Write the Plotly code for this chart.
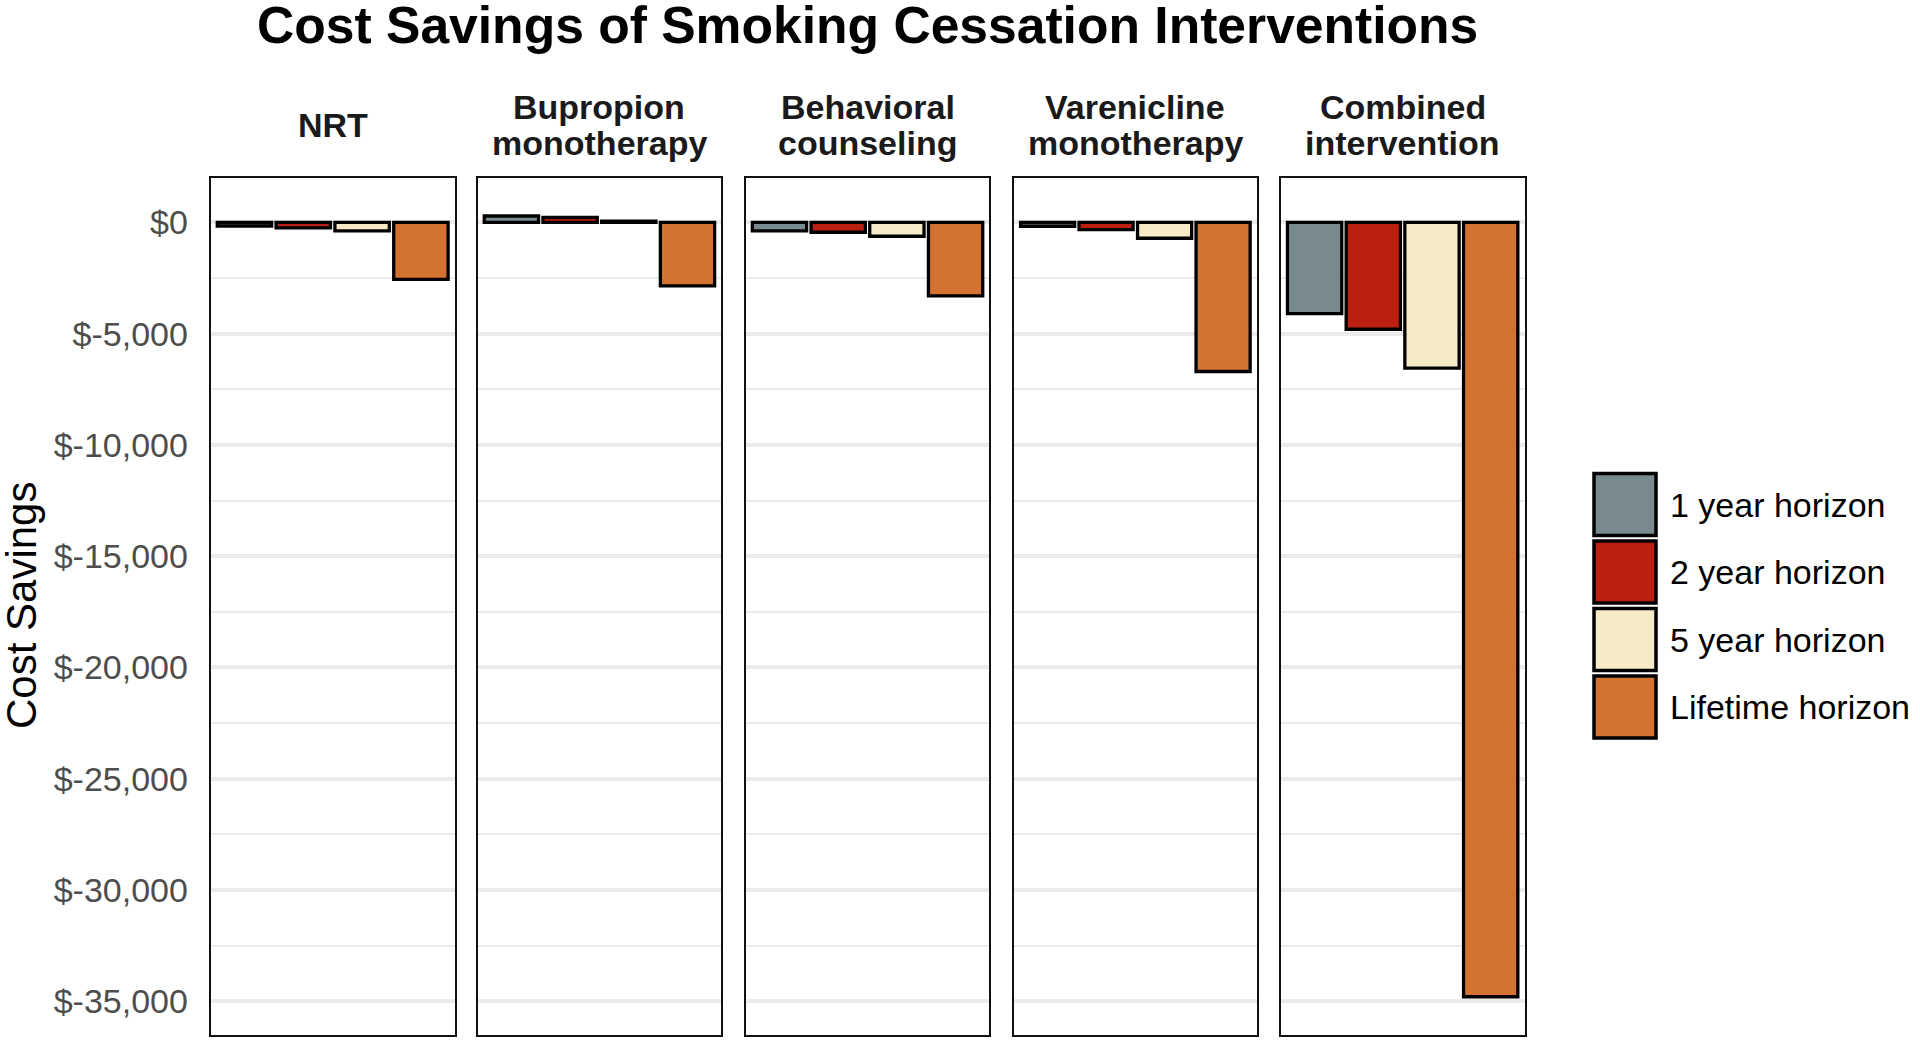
import plotly.graph_objects as go
from plotly.subplots import make_subplots

# ---- data ----
interventions = ["NRT", "Bupropion<br>monotherapy", "Behavioral<br>counseling",
                 "Varenicline<br>monotherapy", "Combined<br>intervention"]
horizons = ["1 year horizon", "2 year horizon", "5 year horizon", "Lifetime horizon"]
savings_1yr = [-160, 290, -380, -170, -4100]
savings_2yr = [-240, 230, -440, -320, -4800]
savings_5yr = [-380, 60, -620, -710, -6550]
savings_life = [-2560, -2850, -3300, -6700, -34800]
horizon_colors = ["#798A8F", "#BA1F12", "#F7EBC7", "#D37231"]
tick_values = [0, -5000, -10000, -15000, -20000, -25000, -30000, -35000]
tick_labels = ["$0", "$-5,000", "$-10,000", "$-15,000", "$-20,000", "$-25,000",
               "$-30,000", "$-35,000"]
title_text = "Cost Savings of Smoking Cessation Interventions"
y_title = "Cost Savings"

W, H = 1920, 1041
panel_px = [(210.6, 454.8), (477.6, 721.3), (745.7, 989.4), (1013.9, 1256.8), (1280.8, 1524.5)]
top_px, bot_px = 177.5, 1035.0

series = [savings_1yr, savings_2yr, savings_5yr, savings_life]

fig = make_subplots(rows=1, cols=5, shared_yaxes=True)
for i, name in enumerate(interventions):
    vals = [s[i] for s in series]
    fig.add_trace(go.Bar(x=horizons, y=vals,
                         marker=dict(color=horizon_colors, line=dict(color="black", width=3.3)),
                         showlegend=False, hoverinfo="skip"), row=1, col=i + 1)

ydom = [(H - bot_px) / H, (H - top_px) / H]
for i, (x0, x1) in enumerate(panel_px):
    xa = "xaxis" if i == 0 else f"xaxis{i+1}"
    ya = "yaxis" if i == 0 else f"yaxis{i+1}"
    fig.layout[xa].update(domain=[x0 / W, x1 / W], type="category", range=[-0.576, 3.576],
                          showticklabels=False, ticks="", showgrid=False, zeroline=False,
                          showline=True, linecolor="#111111", linewidth=1.8, mirror=True,
                          fixedrange=True)
    fig.layout[ya].update(domain=ydom, range=[-36520, 2020], tickvals=tick_values,
                          ticktext=tick_labels, showticklabels=(i == 0),
                          showgrid=True, gridcolor="#EBEBEB", gridwidth=3.6,
                          minor=dict(dtick=2500, tick0=0, showgrid=True, gridcolor="#EBEBEB", gridwidth=1.8),
                          zeroline=False, showline=True, linecolor="#111111", linewidth=1.8,
                          mirror=True, ticks="", ticklabelstandoff=14,
                          tickfont=dict(family="Liberation Sans, Arial", size=34, color="#4D4D4D"))

annotations = []
annotations.append(dict(text=f"<b>{title_text}</b>", x=867 / W, y=1 - 25.5 / H, xref="paper", yref="paper",
                        xanchor="center", yanchor="middle", showarrow=False,
                        font=dict(family="Liberation Sans, Arial", size=51.6, color="black")))
for i, name in enumerate(interventions):
    cx = (panel_px[i][0] + panel_px[i][1]) / 2 / W
    lines = name.split("<br>")
    if len(lines) == 1:
        ys = [125]
    else:
        ys = [106.5, 143]
    for ln, yy in zip(lines, ys):
        annotations.append(dict(text=f"<b>{ln}</b>", x=cx, y=1 - yy / H, xref="paper", yref="paper",
                                xanchor="center", yanchor="middle", showarrow=False,
                                font=dict(family="Liberation Sans, Arial", size=34, color="#1A1A1A")))
annotations.append(dict(text=y_title, x=21 / W, y=1 - 606 / H, xref="paper", yref="paper",
                        xanchor="center", yanchor="middle", showarrow=False, textangle=-90,
                        font=dict(family="Liberation Sans, Arial", size=42, color="black")))

# legend drawn as keys + labels
shapes = []
key_tops = [472, 539.5, 607, 674.5]
key_h = 65
for k, (name, col) in enumerate(zip(horizons, horizon_colors)):
    t = key_tops[k]
    shapes.append(dict(type="rect", xref="paper", yref="paper",
                       x0=1594 / W, x1=1656 / W, y0=1 - (t + key_h - 1.5) / H, y1=1 - (t + 1.5) / H,
                       fillcolor=col, line=dict(color="black", width=3.5)))
    annotations.append(dict(text=name, x=1668 / W, y=1 - (t + key_h / 2) / H, xref="paper", yref="paper",
                            xanchor="left", yanchor="middle", showarrow=False,
                            font=dict(family="Liberation Sans, Arial", size=34, color="black")))

fig.update_layout(width=W, height=H, margin=dict(l=0, r=0, t=0, b=0),
                  paper_bgcolor="white", plot_bgcolor="white",
                  bargap=0.075, annotations=annotations, shapes=shapes,
                  showlegend=False)

fig.write_html("out.html", config={"displayModeBar": False},
               post_script="document.body.style.margin='0';document.body.style.overflow='hidden';")
